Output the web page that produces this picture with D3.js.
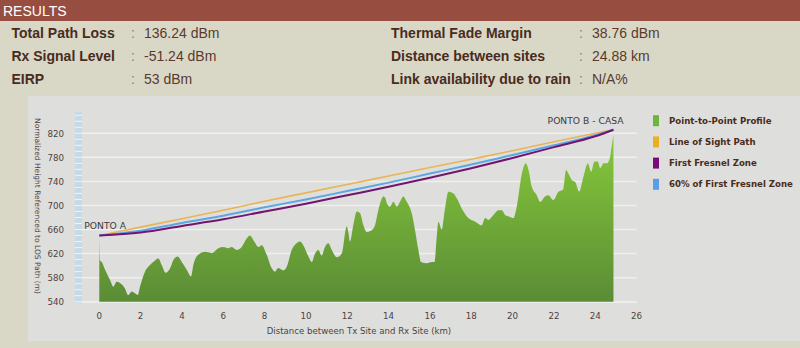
<!DOCTYPE html>
<html>
<head>
<meta charset="utf-8">
<script src="https://cdn.jsdelivr.net/npm/d3@7"></script>
<style>
  html, body { margin: 0; padding: 0; background: #d9d8c7; }
  svg { display: block; }
</style>
</head>
<body>
<svg id="chart" width="800" height="348"></svg>
<script>
// ---- Results table ----
const resultsLeft = [
  ["Total Path Loss", "136.24 dBm"],
  ["Rx Signal Level", "-51.24 dBm"],
  ["EIRP", "53 dBm"]
];
const resultsRight = [
  ["Thermal Fade Margin", "38.76 dBm"],
  ["Distance between sites", "24.88 km"],
  ["Link availability due to rain", "N/A%"]
];

// ---- Chart data (distance km, height m) ----
const profileKm = [0,0.03,0.12,0.28,0.52,0.68,0.84,1.00,1.24,1.40,1.57,1.73,1.86,1.97,2.21,2.37,2.61,2.86,3.02,3.21,3.42,3.58,3.79,3.99,4.23,4.44,4.55,4.79,5.12,5.44,5.76,6.00,6.24,6.41,6.65,6.89,7.13,7.29,7.50,7.70,7.86,8.10,8.34,8.50,8.66,8.91,9.07,9.31,9.55,9.71,9.87,10.12,10.28,10.44,10.60,10.76,10.92,11.08,11.25,11.49,11.73,11.97,12.05,12.13,12.29,12.46,12.62,12.78,12.94,13.18,13.34,13.50,13.75,13.85,13.91,14.07,14.23,14.40,14.55,14.71,14.88,15.12,15.28,15.44,15.57,15.85,16.09,16.22,16.33,16.41,16.57,16.73,16.89,17.14,17.30,17.54,17.86,18.19,18.51,18.67,18.83,19.07,19.31,19.48,19.64,19.88,20.04,20.20,20.45,20.64,20.77,20.93,21.17,21.33,21.57,21.73,21.97,22.22,22.44,22.59,22.70,22.87,23.03,23.22,23.43,23.64,23.80,23.96,24.12,24.24,24.40,24.56,24.72,24.80,24.88];
const profileM = [648,609,606,593,576,565,573,571,562,551,557,554,551,565,590,598,606,612,601,588,595,609,615,606,593,582,601,618,623,621,629,631,629,631,626,631,645,650,640,631,634,618,596,590,596,592,598,626,637,640,634,615,606,620,626,617,631,637,626,614,620,665,656,640,667,690,687,667,656,659,667,692,715,712,704,698,706,698,706,715,706,687,659,626,606,604,606,606,648,673,660,695,723,720,712,695,679,673,667,679,676,684,692,692,684,681,679,698,753,770,759,731,717,706,715,717,709,723,726,759,753,742,739,723,748,770,756,773,773,762,770,770,781,800,817];

const pathKm    = [0, 2, 4, 6, 8, 10, 12, 14, 16, 18, 20, 22, 24, 24.88];
const losM      = [650, 664, 678, 692, 707, 721, 735, 749, 763, 777, 791, 806, 820, 826];
const fresnel60M = [650, 658, 671, 683, 697, 710, 724, 738, 753, 768, 784, 800, 817, 826];
const fresnelM  = [650, 655, 666, 677, 690, 703, 717, 731, 746, 762, 779, 797, 815, 826];

const yTicks = [540, 580, 620, 660, 700, 740, 780, 820];
const xTicks = [0, 2, 4, 6, 8, 10, 12, 14, 16, 18, 20, 22, 24, 26];

const legendItems = [
  {label: "Point-to-Point Profile", color: "#6db53a"},
  {label: "Line of Sight Path", color: "#e6b020"},
  {label: "First Fresnel Zone", color: "#7a0a78"},
  {label: "60% of First Fresnel Zone", color: "#5a9ee6"}
];
const siteA = "PONTO A";
const siteB = "PONTO B - CASA";

// ---- Drawing ----
const svg = d3.select("#chart");
const textColor = "#4a2b20";

// header bar
svg.append("rect").attr("x", 0).attr("y", 0).attr("width", 800).attr("height", 21).attr("fill", "#984d41");
svg.append("text").attr("x", 3).attr("y", 15.5).text("RESULTS")
  .attr("font-family", "Liberation Sans, Arial, sans-serif").attr("font-size", 14).attr("fill", "#ffffff");

function drawRows(rows, xLabel, xColon, xValue) {
  rows.forEach((r, i) => {
    const y = 37.5 + i * 23.3;
    svg.append("text").attr("x", xLabel).attr("y", y).text(r[0])
      .attr("font-family", "Liberation Sans, Arial, sans-serif").attr("font-size", 14)
      .attr("font-weight", "bold").attr("fill", textColor);
    svg.append("text").attr("x", xColon).attr("y", y).text(":")
      .attr("font-family", "Liberation Sans, Arial, sans-serif").attr("font-size", 14).attr("fill", "#8a7a70");
    svg.append("text").attr("x", xValue).attr("y", y).text(r[1])
      .attr("font-family", "Liberation Sans, Arial, sans-serif").attr("font-size", 14).attr("fill", "#5a3a2c");
  });
}
drawRows(resultsLeft, 11.5, 131, 144);
drawRows(resultsRight, 391, 579, 592);

// chart panel
svg.append("rect").attr("x", 28).attr("y", 96).attr("width", 772).attr("height", 245).attr("fill", "#dedfdd");

const x = d3.scaleLinear().domain([0, 26]).range([99.3, 636.6]);
const y = d3.scaleLinear().domain([540, 820]).range([301.7, 133.3]);
const yTopPx = 112;

// gridlines
svg.append("g").selectAll("line").data(yTicks).join("line")
  .attr("x1", 82).attr("x2", x(26)).attr("y1", d => y(d)).attr("y2", d => y(d))
  .attr("stroke", "#f0f0ee").attr("stroke-width", 1.5);

// y axis band
svg.append("rect").attr("x", 75).attr("y", yTopPx).attr("width", 7).attr("height", y(540) - yTopPx + 1)
  .attr("fill", "#c6d9e6");
const minorTicks = d3.range(540, 860, 10);
svg.append("g").selectAll("line").data(minorTicks).join("line")
  .attr("x1", 75).attr("x2", 82).attr("y1", d => y(d)).attr("y2", d => y(d))
  .attr("stroke", "#eef3f7").attr("stroke-width", 1);

// x baseline
svg.append("line").attr("x1", 82).attr("x2", x(26)).attr("y1", y(540) + 0.5).attr("y2", y(540) + 0.5)
  .attr("stroke", "#eceeec").attr("stroke-width", 1.5);

// gradient
const defs = svg.append("defs");
const grad = defs.append("linearGradient").attr("id", "gprof")
  .attr("gradientUnits", "userSpaceOnUse").attr("x1", 0).attr("x2", 0).attr("y1", 135).attr("y2", 302);
grad.append("stop").attr("offset", "0%").attr("stop-color", "#86c93a");
grad.append("stop").attr("offset", "100%").attr("stop-color", "#5b8c36");

const profile = profileKm.map((d, i) => ({k: d, v: profileM[i]}));
const area = d3.area().x(d => x(d.k)).y0(y(540)).y1(d => y(d.v)).curve(d3.curveMonotoneX);
svg.append("path").datum(profile).attr("d", area).attr("fill", "url(#gprof)");

// lines
const lineGen = d3.line().x(d => x(d.k)).y(d => y(d.v)).curve(d3.curveMonotoneX);
function series(arr) { return pathKm.map((k, i) => ({k: k, v: arr[i]})); }
svg.append("path").datum(series(losM)).attr("d", lineGen).attr("fill", "none")
  .attr("stroke", "#e8b455").attr("stroke-width", 1.6);
svg.append("path").datum(series(fresnel60M)).attr("d", lineGen).attr("fill", "none")
  .attr("stroke", "#5ca6e4").attr("stroke-width", 2);
svg.append("path").datum(series(fresnelM)).attr("d", lineGen).attr("fill", "none")
  .attr("stroke", "#721470").attr("stroke-width", 2);

// site labels
svg.append("text").attr("x", x(0) - 15).attr("y", y(losM[0]) - 7).text(siteA)
  .attr("font-family", "DejaVu Sans, Verdana, sans-serif").attr("font-size", 9.2).attr("fill", "#3d3a38");
svg.append("text").attr("x", x(24.88) + 10).attr("y", y(losM[losM.length - 1]) - 6).attr("text-anchor", "end").text(siteB)
  .attr("font-family", "DejaVu Sans, Verdana, sans-serif").attr("font-size", 9.2).attr("fill", "#3d3a38");

// axis labels
const axisFont = "DejaVu Sans, Verdana, sans-serif";
svg.append("g").selectAll("text").data(yTicks).join("text")
  .attr("x", 64).attr("y", d => y(d) + 3.2).attr("text-anchor", "end").text(d => d)
  .attr("font-family", axisFont).attr("font-size", 8.7).attr("fill", "#4d4240");
svg.append("g").selectAll("text").data(xTicks).join("text")
  .attr("x", d => x(d)).attr("y", 318.5).attr("text-anchor", "middle").text(d => d)
  .attr("font-family", axisFont).attr("font-size", 8.7).attr("fill", "#4d4240");

svg.append("text").attr("x", 359).attr("y", 334).attr("text-anchor", "middle")
  .text("Distance between Tx Site and Rx Site (km)")
  .attr("font-family", axisFont).attr("font-size", 8.6).attr("fill", "#4d4240");
svg.append("text").attr("transform", "translate(34.5,206) rotate(90)").attr("text-anchor", "middle")
  .text("Normalized Height Referenced to LOS Path (m)")
  .attr("font-family", axisFont).attr("font-size", 7.5).attr("fill", "#4d4240");

// legend
const lg = svg.append("g");
legendItems.forEach((it, i) => {
  const cy = 120.7 + i * 21.2;
  lg.append("rect").attr("x", 653).attr("y", cy - 5.5).attr("width", 6).attr("height", 11).attr("fill", it.color);
  lg.append("text").attr("x", 669).attr("y", cy + 3).text(it.label)
    .attr("font-family", axisFont).attr("font-size", 8.6).attr("font-weight", "bold").attr("fill", textColor);
});
</script>
</body>
</html>
